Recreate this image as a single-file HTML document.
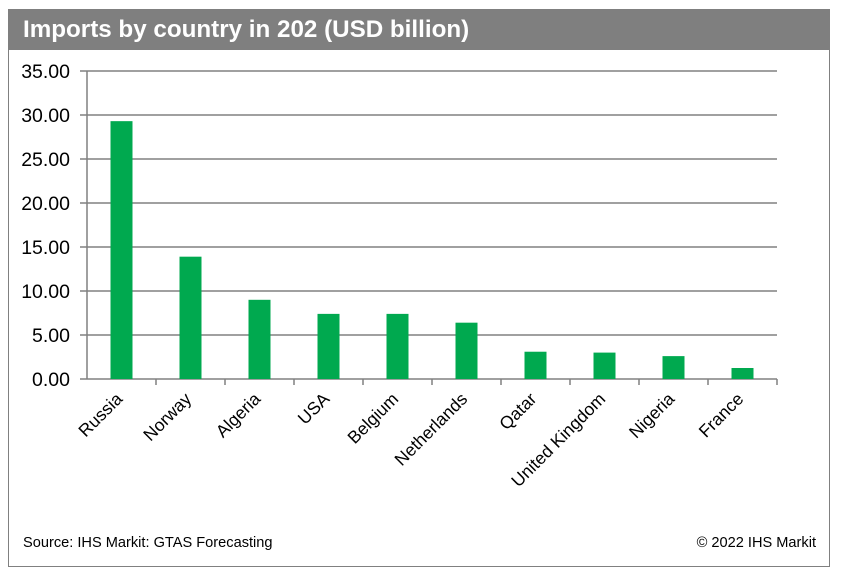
<!DOCTYPE html>
<html><head><meta charset="utf-8"><style>
body{margin:0;background:#fff;font-family:"Liberation Sans",Arial,sans-serif}
#wrap{position:absolute;left:8px;top:9px;width:822px;height:558px;border:1px solid #808080;box-sizing:border-box}
#hdr{position:absolute;left:8px;top:9px;width:822px;height:41px;background:#7f7f7f;color:#fff;font-weight:bold;font-size:24.2px;line-height:41px;padding-left:15px;box-sizing:border-box}
.foot{position:absolute;top:535px;font-size:14.6px;color:#000}
</style></head><body>
<div id="wrap"></div>
<div id="hdr">Imports by country in 202 (USD billion)</div>
<svg id="chart" width="850" height="582" style="position:absolute;left:0;top:0"></svg>
<div class="foot" style="left:23px">Source: IHS Markit: GTAS Forecasting</div>
<div class="foot" style="right:34px">© 2022 IHS Markit</div>
<script>
const categories=["Russia","Norway","Algeria","USA","Belgium","Netherlands","Qatar","United Kingdom","Nigeria","France"];
const values=[29.3,13.9,9.0,7.4,7.4,6.4,3.1,3.0,2.6,1.25];
const yTicks=[0,5,10,15,20,25,30,35];
const yTickLabels=["0.00","5.00","10.00","15.00","20.00","25.00","30.00","35.00"];
const NS="http://www.w3.org/2000/svg";
const svg=document.getElementById('chart');
const x0=87,x1=777,yb=379,yt=71,ymax=35;
const y=v=>yb-(v/ymax)*(yb-yt);
const step=(x1-x0)/categories.length;
const xc=i=>x0+step*(i+0.5);
function mk(t,a){const e=document.createElementNS(NS,t);for(const k in a)e.setAttribute(k,a[k]);svg.appendChild(e);return e;}
yTicks.forEach((v,i)=>{
 const g=mk('line',{x1:80,x2:x1,y1:y(v),y2:y(v),stroke:'#808080','stroke-width':1.5});
 
 
 const t=mk('text',{x:70,y:y(v)+7,'text-anchor':'end','font-size':19.5,fill:'#000','font-family':'Liberation Sans, Arial, sans-serif'});
 t.textContent=yTickLabels[i];
 
 
});
const ax=mk('line',{x1:x0,x2:x0,y1:yt,y2:yb,stroke:'#808080','stroke-width':1.5});


categories.forEach((c,i)=>{
 const tk=mk('line',{x1:x0+step*(i+1),x2:x0+step*(i+1),y1:yb,y2:yb+6,stroke:'#808080','stroke-width':1.5});
 
 
 const b=mk('rect',{x:xc(i)-11,y:y(values[i]),width:22,height:yb-y(values[i]),fill:'#00a94f'});
 
 
 const lx=xc(i)+2, ly=yb+21;
 const t=mk('text',{x:lx,y:ly,'text-anchor':'end','font-size':17.5,fill:'#000','font-family':'Liberation Sans, Arial, sans-serif',transform:`rotate(-45 ${lx} ${ly})`});
 t.textContent=c;
 
 
});
</script>
</body></html>
